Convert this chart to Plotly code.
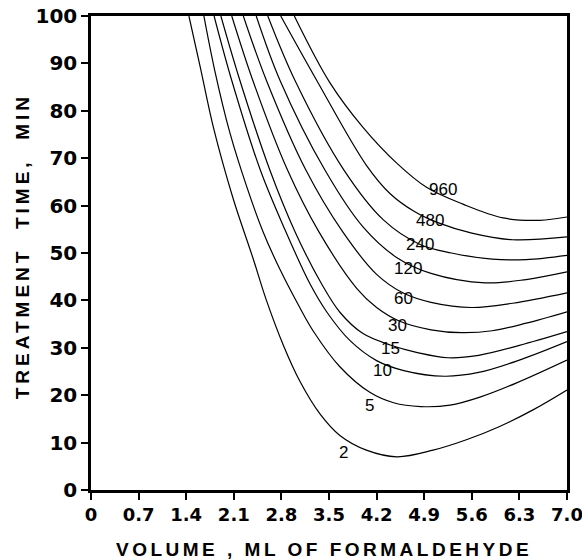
import plotly.graph_objects as go

# Contour curve data (volume ml, treatment time min)
levels = ["2", "5", "10", "15", "30", "60", "120", "240", "480", "960"]

c2_x = [1.44, 1.61, 1.80, 2.09, 2.38, 2.58, 2.83, 3.07, 3.37, 3.66, 4.05, 4.50, 5.03, 5.52, 6.01, 6.50, 7.0]
c2_y = [100, 89.0, 76.5, 61.5, 49.0, 40.0, 30.5, 23.0, 16.0, 11.5, 8.4, 7.0, 8.4, 10.6, 13.4, 16.9, 21.1]

c5_x = [1.66, 1.82, 2.04, 2.29, 2.53, 2.78, 3.07, 3.27, 3.66, 4.10, 4.45, 4.85, 5.28, 5.72, 6.26, 7.0]
c5_y = [100, 88.5, 75.5, 64.0, 54.5, 46.5, 38.5, 33.5, 26.0, 20.6, 18.4, 17.6, 17.9, 19.6, 22.6, 27.4]

c10_x = [1.81, 2.07, 2.49, 2.85, 3.22, 3.47, 3.81, 4.20, 4.60, 5.20, 5.70, 6.30, 7.0]
c10_y = [100, 86.4, 67.5, 55.0, 43.5, 37.5, 31.5, 27.3, 25.2, 24.0, 24.8, 27.4, 31.3]

c15_x = [1.91, 2.19, 2.63, 3.00, 3.39, 3.66, 4.00, 4.40, 4.80, 5.25, 5.70, 6.30, 7.0]
c15_y = [100, 86.4, 67.5, 54.5, 43.5, 37.5, 33.0, 30.6, 29.0, 27.9, 28.4, 30.5, 33.4]

c30_x = [2.07, 2.38, 2.89, 3.35, 3.91, 4.20, 4.54, 5.00, 5.45, 5.90, 6.40, 7.0]
c30_y = [100, 86.4, 67.5, 54.5, 42.5, 38.5, 35.6, 33.8, 33.2, 33.6, 35.2, 37.6]

c60_x = [2.24, 2.58, 3.16, 3.70, 4.20, 4.60, 5.00, 5.60, 6.20, 7.0]
c60_y = [100, 86.4, 67.5, 54.5, 45.5, 41.5, 39.6, 38.5, 39.4, 41.6]

c120_x = [2.43, 2.78, 3.44, 4.00, 4.50, 5.00, 5.80, 6.40, 7.0]
c120_y = [100, 86.4, 67.5, 55.5, 49.0, 45.7, 43.7, 44.4, 46.0]

c240_x = [2.60, 3.00, 3.72, 4.30, 4.84, 5.30, 5.90, 6.40, 7.0]
c240_y = [100, 86.4, 67.5, 57.0, 51.8, 50.0, 48.7, 48.6, 49.5]

c480_x = [2.79, 3.32, 4.05, 4.40, 4.75, 5.10, 5.60, 6.20, 7.0]
c480_y = [100, 86.4, 68.5, 62.5, 58.8, 56.4, 54.2, 52.8, 53.4]

c960_x = [2.99, 3.51, 4.00, 4.50, 4.94, 5.47, 6.06, 6.60, 7.0]
c960_y = [100, 86.0, 76.5, 68.9, 63.8, 60.3, 57.4, 56.9, 57.6]

curves_x = [c2_x, c5_x, c10_x, c15_x, c30_x, c60_x, c120_x, c240_x, c480_x, c960_x]
curves_y = [c2_y, c5_y, c10_y, c15_y, c30_y, c60_y, c120_y, c240_y, c480_y, c960_y]

# Curve label positions (volume, time)
label_x = [3.72, 4.10, 4.29, 4.40, 4.50, 4.59, 4.66, 4.84, 4.99, 5.18]
label_y = [8.0, 17.9, 25.3, 29.9, 34.8, 40.5, 46.8, 51.7, 56.9, 63.3]

x_ticks = [0, 0.7, 1.4, 2.1, 2.8, 3.5, 4.2, 4.9, 5.6, 6.3, 7.0]
x_tick_text = ["0", "0.7", "1.4", "2.1", "2.8", "3.5", "4.2", "4.9", "5.6", "6.3", "7.0"]
y_ticks = [0, 10, 20, 30, 40, 50, 60, 70, 80, 90, 100]

fig = go.Figure()
for lv, xs, ys in zip(levels, curves_x, curves_y):
    fig.add_trace(go.Scatter(
        x=xs, y=ys, mode="lines", name=lv,
        line=dict(color="black", width=1.2, shape="spline", smoothing=1.0),
        showlegend=False, hoverinfo="skip",
    ))

for lv, lx, ly in zip(levels, label_x, label_y):
    fig.add_annotation(x=lx, y=ly, text=lv, showarrow=False,
                       font=dict(family="Liberation Sans, Arial", size=17, color="black"))

fig.add_annotation(xref="paper", yref="paper", x=0.49, y=-0.1245,
                   text='<span style="letter-spacing:3.5px">VOLUME , ML OF FORMALDEHYDE</span>',
                   showarrow=False,
                   font=dict(family="Liberation Sans, Arial", size=19, color="black", weight="bold"),
                   xanchor="center", yanchor="middle")
fig.add_annotation(xref="paper", yref="paper", x=-0.144, y=0.515,
                   text='<span style="letter-spacing:4px">TREATMENT  TIME,  MIN</span>',
                   showarrow=False, textangle=-90,
                   font=dict(family="Liberation Sans, Arial", size=19, color="black", weight="bold"),
                   xanchor="center", yanchor="middle")

xfont = dict(family="DejaVu Sans", size=18, color="black", weight="bold")
yfont = dict(family="DejaVu Sans", size=20, color="black", weight="bold")
fig.update_xaxes(range=[0, 7.0], tickvals=x_ticks, ticktext=x_tick_text,
                 ticks="outside", ticklen=7, tickwidth=2, tickcolor="black",
                 showline=True, linewidth=2.5, linecolor="black", mirror=True,
                 showgrid=False, zeroline=False, tickfont=xfont, automargin=False,
                 ticklabeloverflow="allow")
fig.update_yaxes(range=[0, 100], tickvals=y_ticks,
                 ticks="outside", ticklen=7, tickwidth=2, tickcolor="black",
                 showline=True, linewidth=2.5, linecolor="black", mirror=True,
                 showgrid=False, zeroline=False, tickfont=yfont, automargin=False,
                 ticklabeloverflow="allow")

fig.update_layout(
    width=582, height=559,
    margin=dict(l=91, r=15, t=16, b=69, autoexpand=False),
    paper_bgcolor="white", plot_bgcolor="white",
    font=dict(family="Liberation Sans, Arial", color="black"),
)
# remove the default page margin so the figure fills the window exactly
fig.write_html("out.html",
               config={"displayModeBar": False},
               post_script="document.body.style.margin='0';document.body.style.overflow='hidden';")
